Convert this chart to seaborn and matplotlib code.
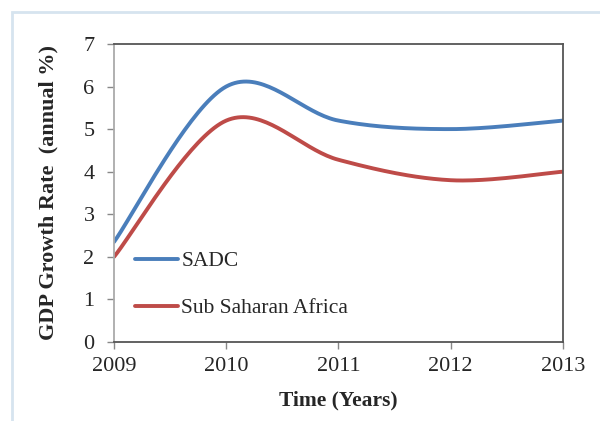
import numpy as np
import pandas as pd
import matplotlib
matplotlib.use("Agg")
import matplotlib.pyplot as plt
import seaborn as sns
from matplotlib.patches import Rectangle

# values (GDP growth, annual %)
years = [2009, 2010, 2011, 2012, 2013]
sadc = [2.35, 6.0, 5.2, 5.0, 5.2]
ssa = [2.0, 5.2, 4.28, 3.8, 4.0]
series_names = ["SADC", "Sub Saharan Africa"]
colors = ["#4a7ebb", "#be4b48"]


def excel_smooth(x, y, n=40):
    # Excel-style smoothed line: cubic Bezier between points,
    # control points taken from neighbouring points (tension 1/6)
    x = np.asarray(x, float)
    y = np.asarray(y, float)
    pts = np.column_stack([x, y])
    out = []
    for i in range(len(pts) - 1):
        p0 = pts[i]
        p3 = pts[i + 1]
        prev = pts[i - 1] if i > 0 else p0
        nxt = pts[i + 2] if i + 2 < len(pts) else p3
        c1 = p0 + (p3 - prev) / 6
        c2 = p3 - (nxt - p0) / 6
        t = np.linspace(0, 1, n)[:, None]
        seg = ((1 - t) ** 3) * p0 + 3 * ((1 - t) ** 2) * t * c1 \
            + 3 * (1 - t) * t ** 2 * c2 + t ** 3 * p3
        out.append(seg if i == 0 else seg[1:])
    return np.vstack(out)


frames = []
for name, vals in zip(series_names, [sadc, ssa]):
    curve = excel_smooth(years, vals)
    frames.append(pd.DataFrame({"Year": curve[:, 0], "Growth": curve[:, 1],
                                "Series": name}))
df = pd.concat(frames, ignore_index=True)

sns.set_style("ticks")
plt.rcParams["font.family"] = ["Liberation Serif", "DejaVu Serif"]

fig = plt.figure(figsize=(6, 4.21), dpi=100)
ax = fig.add_axes([0.19, 0.1876, 0.748, 0.708])

sns.lineplot(data=df, x="Year", y="Growth", hue="Series",
             palette=colors, linewidth=2.8, sort=False,
             estimator=None, ax=ax)

ax.set_xlim(2009, 2013)
ax.set_ylim(0, 7)
ax.set_xticks(years)
ax.set_yticks(range(0, 8))
ax.tick_params(axis="both", labelsize=16, direction="out", length=5,
               width=1, color="#888888")
ax.tick_params(axis="y", pad=9)
ax.tick_params(axis="x", pad=6)

for side in ["top", "right", "bottom"]:
    ax.spines[side].set_visible(True)
    ax.spines[side].set_color("#555555")
    ax.spines[side].set_linewidth(1.3)
ax.spines["left"].set_color("#aaaaaa")
ax.spines["left"].set_linewidth(1.3)

ax.set_xlabel("Time (Years)", fontsize=15.5, fontweight="bold", labelpad=10)
ax.set_ylabel("GDP Growth Rate  (annual %)", fontsize=16,
              fontweight="bold", labelpad=18)

leg = ax.legend(loc="upper left", bbox_to_anchor=(0.047, 0.305),
                frameon=False, fontsize=15.5, handlelength=2.0,
                handletextpad=0.15, labelspacing=1.25, borderpad=0,
                borderaxespad=0)

# light blue frame around the chart area
fig.add_artist(Rectangle((12 / 600, -0.2), 1.2, 1 - 12 / 421 + 0.2,
                         transform=fig.transFigure, fill=False,
                         edgecolor="#d6e4ef", linewidth=2))

fig.savefig("out.png", dpi=100)
